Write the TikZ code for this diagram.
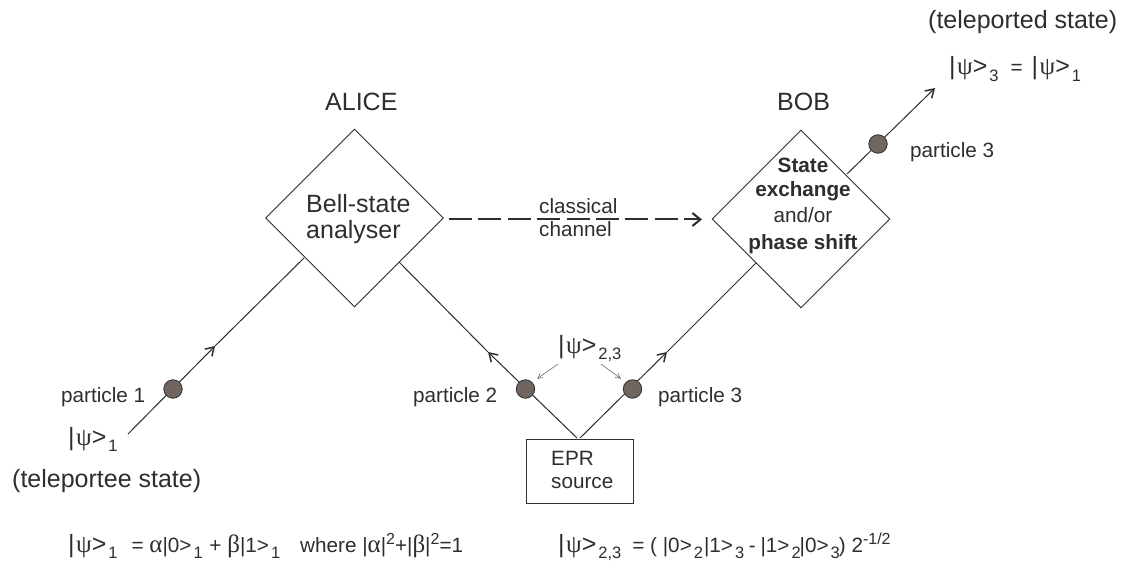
\documentclass[tikz,border=0pt]{standalone}
\usepackage{fontspec}
\setmainfont{Liberation Sans}
\newfontfamily\grk{Liberation Serif}
\usetikzlibrary{arrows.meta,shapes.geometric}
\definecolor{ink}{HTML}{2E2E2E}
\definecolor{ball}{HTML}{70655F}
\newcommand{\bigtxt}{\fontsize{25}{25}\selectfont}
\newcommand{\midtxt}{\fontsize{20.7}{24}\selectfont}
\newcommand{\psiket}{{\bigtxt|\hspace{1.5pt}{\grk ψ}>}}
\newcommand{\grkl}[1]{{\fontsize{25}{25}\selectfont\grk #1}}
\newcommand{\hisup}[1]{\raisebox{8pt}{\fontsize{16}{16}\selectfont #1}}
\newcommand{\smlow}[1]{\hspace{2pt}\raisebox{-6.5pt}{\fontsize{16.5}{17}\selectfont #1}\hspace{1pt}}
\tikzset{
  wire/.style={draw=ink,line width=1pt},
  wirearrow/.style={wire,-{Straight Barb[length=8pt,width=10pt,line width=1.5pt]}},
  tag/.style={anchor=base west,inner sep=0pt,text=ink,font=\midtxt},
  big/.style={anchor=base west,inner sep=0pt,text=ink,font=\bigtxt},
  midc/.style={anchor=base,inner sep=0pt,text=ink,font=\midtxt},
  gate/.style={diamond,draw=ink,line width=0.9pt,inner sep=0pt,minimum width=178pt,minimum height=178pt,aspect=1},
  ballnode/.style={circle,draw=ink,fill=ball,line width=0.8pt,inner sep=0pt,minimum size=18.5pt},
  hint/.style={draw=ink!80,line width=0.5pt,shorten >=6pt,-{Straight Barb[length=5pt,width=5pt,line width=0.5pt]}},
}
\begin{document}
\begin{tikzpicture}[x=1pt,y=-1pt]
\useasboundingbox (0,0) rectangle (1121,561);
\fill[white] (0,0) rectangle (1121,561);

% boxes
\node[gate] (alice) at (354.5,218) {};
\node[gate] (bob) at (801,219) {};
\node[draw=ink,line width=1pt,minimum width=107pt,minimum height=64pt,inner sep=0pt] (epr) at (579.5,471) {};

% free ends
\coordinate (p1start) at (128,434);
\coordinate (p1mid) at (215,346);
\coordinate (p1end) at (304,258);
\coordinate (p2start) at (577,438);
\coordinate (p2mid) at (488,352);
\coordinate (p2end) at (399,262);
\coordinate (p3start) at (580,438);
\coordinate (p3mid) at (667,352);
\coordinate (p3end) at (756,263);
\coordinate (outstart) at (847,174);
\coordinate (outend) at (935,88);
\coordinate (dashstart) at (449,219.5);
\coordinate (dashend) at (702,219.5);

% wires
\draw[wirearrow] (p1start) -- (p1mid);
\draw[wire] (p1mid) -- (p1end);
\draw[wirearrow] (p2start) -- (p2mid);
\draw[wire] (p2mid) -- (p2end);
\draw[wirearrow] (p3start) -- (p3mid);
\draw[wire] (p3mid) -- (p3end);
\draw[wirearrow] (outstart) -- (outend);
\draw[draw=ink,line width=2pt,dash pattern=on 23pt off 6.4pt,-{Straight Barb[length=8pt,width=13pt,line width=2pt]}] (dashstart) -- (dashend);

% particles
\node[ballnode] (b1) at (173,389) {};
\node[ballnode] (b2) at (525.5,389) {};
\node[ballnode] (b3) at (632.5,389) {};
\node[ballnode] (b4) at (878,144) {};

% entanglement hints
\coordinate (hl) at (558,364);
\coordinate (hr) at (601,364);
\draw[hint] (hl) -- (b2.north east);
\draw[hint] (hr) -- (b3.north west);

% labels
\node[big] (lalice) at (325,110.5) {ALICE};
\node[big] (lbob) at (777,110.5) {BOB};
\node[big] (lbell1) at (306,212.5) {Bell-state};
\node[big] (lbell2) at (306,239) {analyser};
\node[tag] (lclass1) at (539,214) {classical};
\node[tag] (lclass2) at (539,237) {channel};
\node[midc] (ls1) at (803,172.5) {\textbf{State}};
\node[midc] (ls2) at (803,196.5) {\textbf{exchange}};
\node[midc] (ls3) at (803,222.5) {and/or};
\node[midc] (ls4) at (803,250) {\textbf{phase shift}};
\node[tag] (lp1) at (61,402) {particle 1};
\node[tag] (lp2) at (413,402) {particle 2};
\node[tag] (lp3) at (658,402) {particle 3};
\node[tag] (lp4) at (910,157.5) {particle 3};
\node[tag] (leprA) at (551,465) {EPR};
\node[tag] (leprB) at (551,488) {source};
\node[big] (lted) at (928,29) {(teleported state)};
\node[big] (ltee) at (12,487) {(teleportee state)};
\node[tag] (k3) at (949,75) {\psiket\smlow{3}\hspace{11pt}=\hspace{9pt}\psiket\smlow{1}};
\node[tag] (k1) at (68,445) {\psiket\smlow{1}};
\node[tag] (k23) at (558,353) {\psiket\smlow{2,3}};
\node[tag] (f1) at (68,552) {\psiket\smlow{1}\hspace{13pt}= \grkl{α}|0>\smlow{1} + \grkl{β}|1>\smlow{1}\hspace{19pt}where |\grkl{α}|\hisup{2}+|\grkl{β}|\hisup{2}=1};
\node[tag] (f2) at (558,552) {\psiket\smlow{2,3}\hspace{10pt}= ( |0>\smlow{2}|1>\smlow{3}\hspace{-2pt} -\hspace{-1pt} |1>\smlow{2}\hspace{-2pt}|0>\smlow{3}\hspace{-2pt}) 2\hisup{-1/2}};
\end{tikzpicture}
\end{document}
